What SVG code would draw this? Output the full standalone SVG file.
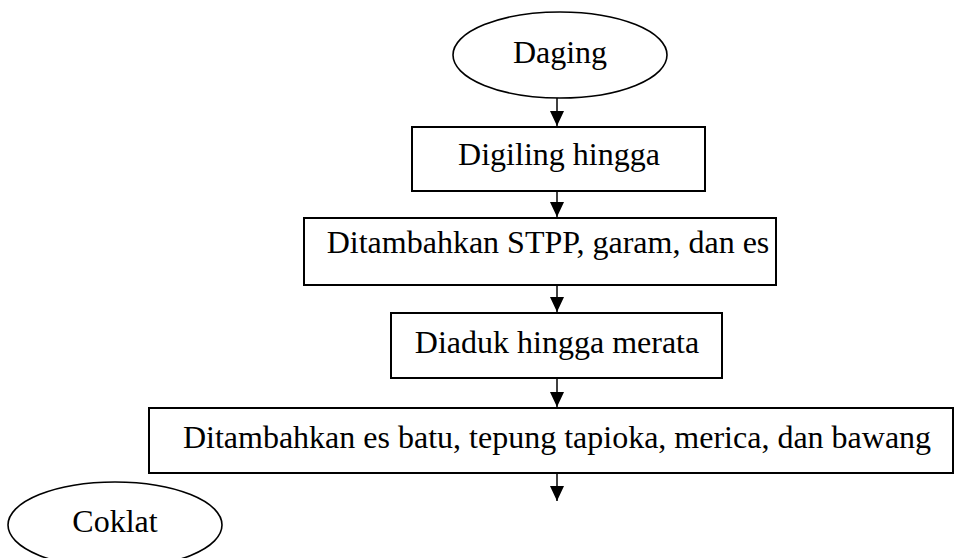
<svg xmlns="http://www.w3.org/2000/svg" width="955" height="558" viewBox="0 0 955 558">
<style>
.box{fill:#fff;stroke:#000;stroke-width:2}
.oval{fill:#fff;stroke:#000;stroke-width:1.6}
.t{font-family:"Liberation Serif","Times New Roman",serif;font-size:32px;fill:#000;text-anchor:middle}
.c{stroke:#000;stroke-width:1.5;fill:none}
</style>
<defs>
<marker id="ah" viewBox="0 0 15 14" refX="15" refY="7" markerWidth="15" markerHeight="14" markerUnits="userSpaceOnUse" orient="auto">
<path d="M0,0 L15,7 L0,14 Z" fill="#000"/>
</marker>
</defs>
<rect width="955" height="558" fill="#fff"/>
<g id="connectors">
<line class="c" x1="557" y1="98" x2="557" y2="126" marker-end="url(#ah)"/>
<line class="c" x1="557" y1="191" x2="557" y2="217" marker-end="url(#ah)"/>
<line class="c" x1="557" y1="285" x2="557" y2="312" marker-end="url(#ah)"/>
<line class="c" x1="557" y1="378" x2="557" y2="407" marker-end="url(#ah)"/>
<line class="c" x1="557" y1="473" x2="557" y2="501" marker-end="url(#ah)"/>
</g>
<g id="daging">
<ellipse class="oval" cx="560" cy="55" rx="107" ry="43"/>
<text class="t" x="560" y="63">Daging</text>
</g>
<g id="digiling">
<rect class="box" x="412" y="127" width="293" height="64"/>
<text class="t" x="559" y="165">Digiling hingga</text>
</g>
<g id="stpp">
<rect class="box" x="304" y="218" width="472" height="67"/>
<text class="t" x="548" y="253">Ditambahkan STPP, garam, dan es</text>
</g>
<g id="diaduk">
<rect class="box" x="391" y="313" width="331" height="65"/>
<text class="t" x="557" y="353">Diaduk hingga merata</text>
</g>
<g id="tepung">
<rect class="box" x="149" y="408" width="804" height="65"/>
<text class="t" x="557" y="448">Ditambahkan es batu, tepung tapioka, merica, dan bawang</text>
</g>
<g id="coklat">
<ellipse class="oval" cx="115" cy="525" rx="107" ry="43"/>
<text class="t" x="115" y="532">Coklat</text>
</g>
</svg>
